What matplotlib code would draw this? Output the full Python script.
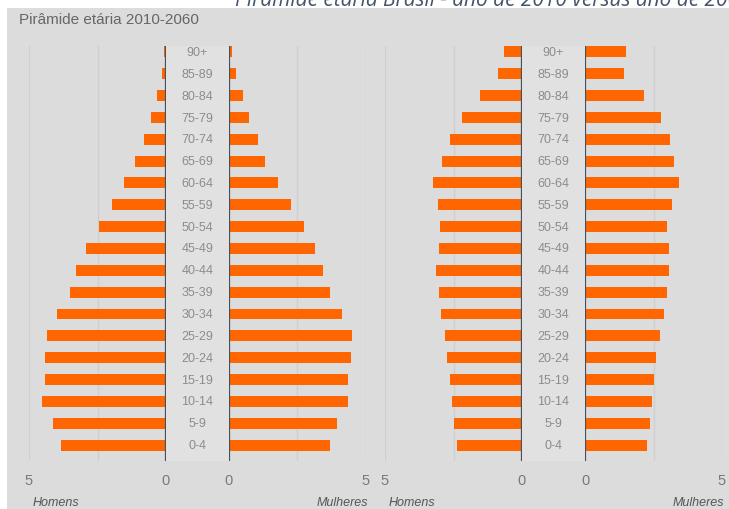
import numpy as np
import matplotlib
matplotlib.use('Agg')
import matplotlib.pyplot as plt
from matplotlib.patches import Rectangle

plt.rcParams['font.family'] = ['Liberation Sans', 'DejaVu Sans']

# age groups, bottom to top
ages = ['0-4', '5-9', '10-14', '15-19', '20-24', '25-29', '30-34', '35-39', '40-44',
        '45-49', '50-54', '55-59', '60-64', '65-69', '70-74', '75-79', '80-84', '85-89', '90+']

# % of population, 2010
men_2010 = [3.84, 4.12, 4.53, 4.43, 4.43, 4.34, 3.98, 3.50, 3.28, 2.92,
            2.46, 1.97, 1.53, 1.13, 0.80, 0.55, 0.33, 0.15, 0.08]
women_2010 = [3.67, 3.94, 4.34, 4.34, 4.44, 4.48, 4.12, 3.67, 3.44, 3.14,
              2.74, 2.25, 1.78, 1.31, 1.05, 0.73, 0.50, 0.25, 0.10]

# % of population, 2060
men_2060 = [2.37, 2.47, 2.54, 2.64, 2.73, 2.81, 2.95, 3.04, 3.13, 3.03,
            2.98, 3.08, 3.23, 2.91, 2.64, 2.19, 1.52, 0.86, 0.67]
women_2060 = [2.28, 2.37, 2.46, 2.50, 2.59, 2.72, 2.87, 2.99, 3.05, 3.05,
              3.00, 3.19, 3.42, 3.26, 3.09, 2.78, 2.14, 1.44, 1.49]

W, H = 729, 510
fig = plt.figure(figsize=(W / 100, H / 100), dpi=100)
fig.patch.set_facecolor('white')

def px(x0, x1, y0, y1):
    return [x0 / W, 1 - y1 / H, (x1 - x0) / W, (y1 - y0) / H]

# grey card behind the chart
fig.add_artist(Rectangle((7 / W, 0), 1, 1 - 9 / H, transform=fig.transFigure,
                         facecolor='#dcdcdc', edgecolor='none', zorder=-10))
for x0, x1 in [(166, 229), (522, 585)]:
    fig.add_artist(Rectangle((x0 / W, 1 - 462 / H), (x1 - x0) / W, 415 / H,
                             transform=fig.transFigure, facecolor='#e1e1e1',
                             edgecolor='none', zorder=-9))

bar_color = '#ff6600'
axis_color = '#45505e'
grid_color = '#cfcfcf'
y = np.arange(len(ages))

def half(rect, vals, side):
    ax = fig.add_axes(rect)
    ax.set_facecolor('none')
    ax.barh(y, vals, height=0.5, color=bar_color, zorder=3)
    ax.set_ylim(-0.73, 18.27)
    if side == 'left':
        ax.set_xlim(5, 0)
    else:
        ax.set_xlim(0, 5)
    for g in [2.5, 5]:
        ax.axvline(g, color=grid_color, lw=1, zorder=1)
    ax.axvline(0, color=axis_color, lw=1.6, zorder=4)
    for s in ax.spines.values():
        s.set_visible(False)
    ax.set_yticks([])
    ax.set_xticks([5, 0])
    ax.set_xticklabels(['5', '0'])
    ax.tick_params(axis='x', length=0, pad=9, labelsize=10.5, labelcolor='#7a7a7a')
    return ax

panels = [(29, 166, 229, 366, men_2010, women_2010),
          (385, 522, 585, 722, men_2060, women_2060)]
for m0, m1, f0, f1, men, women in panels:
    half(px(m0, m1, 47, 462), men, 'left')
    half(px(f0, f1, 47, 462), women, 'right')
    cx = (m1 + f0) / 2
    for i, lab in enumerate(ages):
        ypix = 446 - i * (446 - 53) / 18
        fig.text(cx / W, 1 - ypix / H, lab, ha='center', va='center',
                 fontsize=9, color='#8c8c8c')
    fig.text((m0 + 4) / W, 1 - 503 / H, 'Homens', ha='left', va='center',
             fontsize=9, style='italic', color='#555555')
    fig.text((f1 + 2) / W, 1 - 503 / H, 'Mulheres', ha='right', va='center',
             fontsize=9, style='italic', color='#555555')

fig.text(19 / W, 1 - 20 / H, 'Pirâmide etária 2010-2060', ha='left', va='center',
         fontsize=11, color='#666666')
# header is cropped at the top and right edge in the original picture
fig.text(235 / W, 1 - 6 / H, 'Pirâmide etária Brasil - ano de 2010 versus ano de 2060',
         ha='left', va='baseline', fontsize=15, style='italic', color='#44546a',
         family=['Open Sans', 'DejaVu Sans'])

fig.savefig('out.png', dpi=100)
